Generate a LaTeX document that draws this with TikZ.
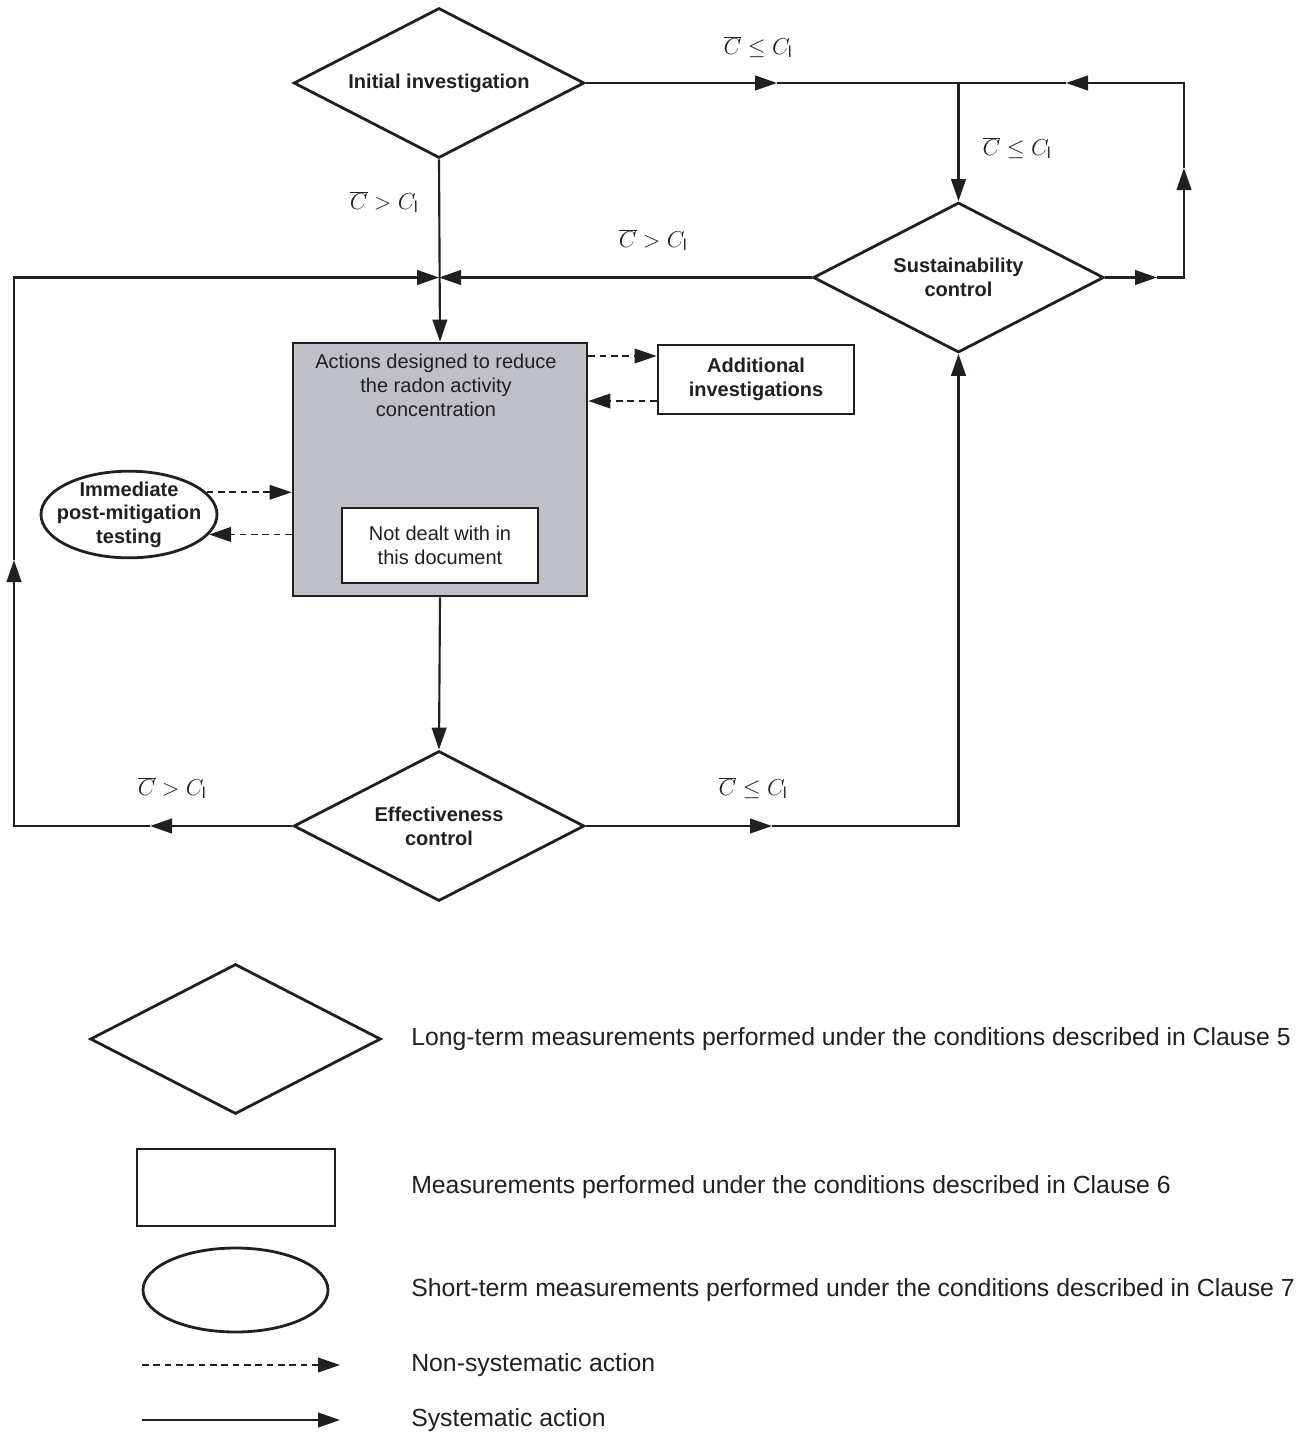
\documentclass[tikz,border=0pt]{standalone}
\usepackage{fontspec}
\setmainfont{Liberation Sans}
\usetikzlibrary{shapes.geometric,arrows.meta,calc}
\definecolor{ink}{RGB}{35,31,32}
\definecolor{actgrey}{RGB}{190,192,198}
\begin{document}
\begin{tikzpicture}[x=0.75pt,y=-0.75pt,
  every node/.style={text=ink},
  arrowend/.style={-{Triangle[length=16.5pt,width=11pt]}},
  sysline/.style={draw=ink,line width=1.6pt},
  nsline/.style={draw=ink,line width=1.2pt,dash pattern=on 5pt off 3.5pt},
  dia/.style={diamond,draw=ink,line width=2.1pt,minimum width=218pt,minimum height=112.5pt,inner sep=0pt,aspect=2,align=center,font=\bfseries\fontsize{15}{18}\selectfont},
  boxb/.style={rectangle,draw=ink,line width=2.1pt,inner sep=0pt,align=center},
  ell/.style={ellipse,draw=ink,line width=2.1pt,inner sep=0pt},
  mlab/.style={font=\fontsize{17}{20}\selectfont},
  ltext/.style={anchor=west,inner sep=0pt,font=\fontsize{18.6}{22}\selectfont}
]
\useasboundingbox (0,0) rectangle (1314,1450);

% main shapes
\node[dia] (ii) at (439,83) {Initial investigation};
\node[dia] (sc) at (958.5,277.5) {Sustainability\\control};
\node[dia] (ec) at (439,826) {Effectiveness\\control};
\node[boxb,fill=actgrey,minimum width=220.5pt,minimum height=189.75pt] (act) at (440,469.5) {};
\node[align=center,anchor=north,inner sep=0pt,font=\fontsize{15}{18}\selectfont] (acttxt) at (436,354) {Actions designed to reduce\\the radon activity\\concentration};
\node[boxb,fill=white,line width=1.8pt,minimum width=147pt,minimum height=56.25pt,font=\fontsize{15}{18}\selectfont] (nd) at (440,545.5) {Not dealt with in\\this document};
\node[boxb,minimum width=147pt,minimum height=51.75pt,font=\bfseries\fontsize{15}{18}\selectfont] (add) at (756,379.5) {Additional\\investigations};
\node[ell,minimum width=132pt,minimum height=65pt] (imm) at (129,514.5) {};
\node[align=center,inner sep=0pt,font=\bfseries\fontsize{15}{17.6}\selectfont] (immtxt) at (imm) {Immediate\\post-mitigation\\testing};

% routing points
\coordinate (J) at (ii.south |- sc.west);
\coordinate (L1) at (150,826);
\coordinate (LB) at (14,826);
\coordinate (L2) at (14,560);
\coordinate (LT) at (14,277.5);
\coordinate (R1) at (772,826);
\coordinate (RB) at (sc.south |- ec.east);
\coordinate (TM) at (sc.north |- ii.east);
\coordinate (T1) at (777,83);
\coordinate (S1) at (1157,277.5);
\coordinate (RC) at (1184,277.5);
\coordinate (U1) at (1184,168);
\coordinate (RT) at (1184,83);
\coordinate (T2) at (1066,83);

% systematic connectors
\draw[sysline,arrowend] (ii.south) -- (act.north);
\draw[sysline,arrowend] (sc.west) -- (J);
\draw[sysline,arrowend] (ec.west) -- (L1);
\draw[sysline,arrowend] (L1) -- (LB) -- (L2);
\draw[sysline,arrowend] (L2) -- (LT) -- (J);
\draw[sysline,arrowend] (act.south) -- (ec.north);
\draw[sysline,arrowend] (ec.east) -- (R1);
\draw[sysline,arrowend] (R1) -- (RB) -- (sc.south);
\draw[sysline,arrowend] (ii.east) -- (T1);
\draw[sysline] (T1) -- (TM);
\draw[sysline,arrowend] (TM) -- (sc.north);
\draw[sysline,arrowend] (sc.east) -- (S1);
\draw[sysline,arrowend] (S1) -- (RC) -- (U1);
\draw[sysline,arrowend] (U1) -- (RT) -- (T2);
\draw[sysline] (T2) -- (TM);

% non-systematic connectors
\coordinate (addU) at ($(add.west)+(0,-23.5)$);
\coordinate (addD) at ($(add.west)+(0,21.5)$);
\draw[nsline,arrowend] (act.east |- addU) -- (addU);
\draw[nsline,arrowend] (addD) -- (act.east |- addD);
\draw[nsline,arrowend] (imm.16) -- (imm.16 -| act.west);
\draw[nsline,arrowend] (imm.-14 -| act.west) -- (imm.-14);

% condition labels
\node[mlab] (c1) at (758,47) {$\overline{C}\leq C_{\mathrm{l}}$};
\node[mlab] (c2) at (1017,148) {$\overline{C}\leq C_{\mathrm{l}}$};
\node[mlab] (c3) at (384,202) {$\overline{C}>C_{\mathrm{l}}$};
\node[mlab] (c4) at (653,240) {$\overline{C}>C_{\mathrm{l}}$};
\node[mlab] (c5) at (172,788) {$\overline{C}>C_{\mathrm{l}}$};
\node[mlab] (c6) at (753,788) {$\overline{C}\leq C_{\mathrm{l}}$};

% legend
\node[dia] (lgd) at (235.5,1039) {};
\node[boxb,minimum width=148.5pt,minimum height=57.75pt] (lgr) at (236,1187.5) {};
\node[ell,minimum width=138.75pt,minimum height=63pt] (lge) at (235.5,1290) {};
\coordinate (nsA) at (142,1365);
\coordinate (nsB) at (340,1365);
\coordinate (syA) at (142,1420);
\coordinate (syB) at (340,1420);
\draw[nsline,arrowend] (nsA) -- (nsB);
\draw[sysline,arrowend] (syA) -- (syB);
\node[ltext] (t1) at (411,1039) {Long-term measurements performed under the conditions described in Clause 5};
\node[ltext] (t2) at (411,1187.5) {Measurements performed under the conditions described in Clause 6};
\node[ltext] (t3) at (411,1290) {Short-term measurements performed under the conditions described in Clause 7};
\node[ltext] (t4) at (411,1365) {Non-systematic action};
\node[ltext] (t5) at (411,1420) {Systematic action};
\end{tikzpicture}
\end{document}
